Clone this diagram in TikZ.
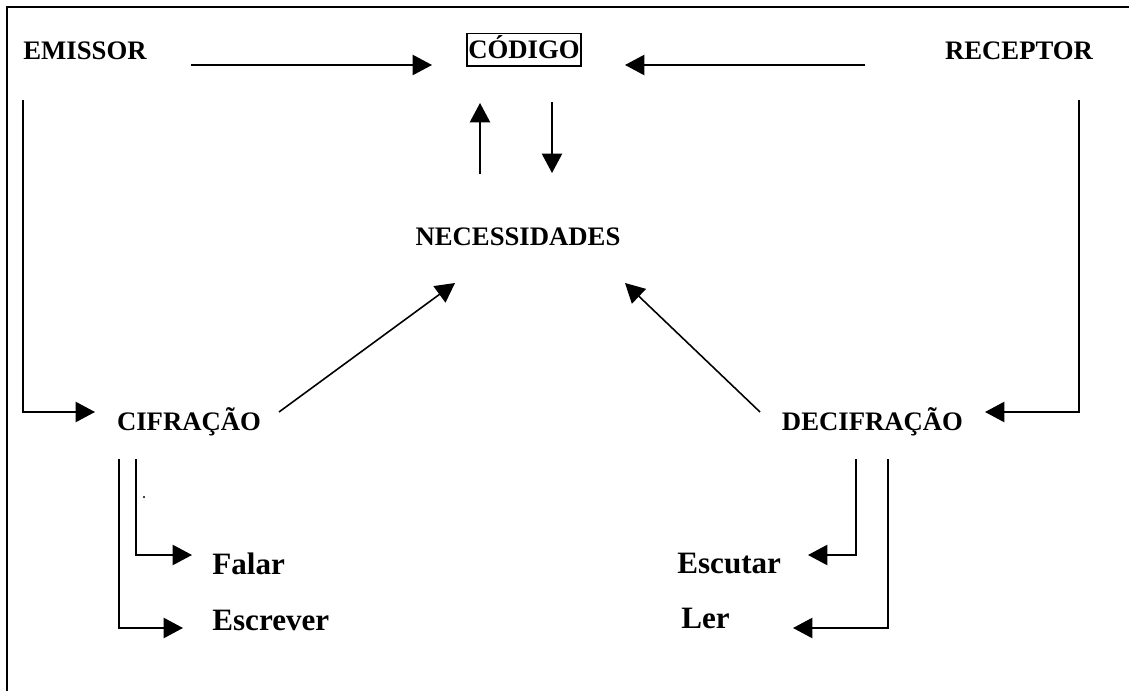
\documentclass[tikz,border=0pt]{standalone}
\usepackage{fontspec}
\setmainfont{Liberation Serif}
\usetikzlibrary{arrows.meta,positioning}

\begin{document}
\begin{tikzpicture}[
  concept/.style={inner sep=0pt, anchor=base, font=\fontsize{15.2}{18}\selectfont\bfseries},
  action/.style={inner sep=0pt, anchor=base west, font=\fontsize{17.7}{21}\selectfont\bfseries},
  arrow/.style={-{Triangle[length=11pt,width=11.5pt]}, line width=0.9pt},
  frame/.style={line width=1.1pt}
]
  \useasboundingbox (0,0) rectangle (22.58,13.82);
  % Frame (only top and left edges show)
  \draw[frame] (0.14,0) -- (0.14,13.68) -- (22.58,13.68);

  % Concepts
  \node[concept] (emissor) at (1.70,12.62) {EMISSOR};
  \node[concept, draw, line width=0.9pt, inner xsep=0.8pt, text height=14.5pt, text depth=4pt] (codigo) at (10.48,12.64) {CÓDIGO};
  \node[concept] (receptor) at (20.38,12.62) {RECEPTOR};
  \node[concept] (necessidades) at (10.36,8.92) {NECESSIDADES};
  \node[concept] (cifracao) at (3.78,5.22) {CIFRAÇÃO};
  \node[concept] (decifracao) at (17.45,5.22) {DECIFRAÇÃO};

  % Actions
  \node[action] (falar) at (4.24,2.34) {Falar};
  \node[action] (escrever) at (4.24,1.22) {Escrever};
  \node[action] (escutar) at (13.54,2.36) {Escutar};
  \node[action] (ler) at (13.62,1.26) {Ler};
  \node[circle, fill, inner sep=0pt, minimum size=1.3pt] (ponto) at (2.88,3.88) {};

  % Connector ends
  \coordinate (emissor-out) at (3.82,12.52);
  \coordinate (codigo-l) at (8.64,12.52);
  \coordinate (receptor-out) at (17.30,12.52);
  \coordinate (codigo-r) at (12.50,12.52);
  \coordinate (nec-up) at (9.60,10.34);
  \coordinate (codigo-bl) at (9.60,11.76);
  \coordinate (codigo-br) at (11.04,11.78);
  \coordinate (nec-down) at (11.04,10.36);
  \coordinate (cif-out) at (5.58,5.58);
  \coordinate (nec-l) at (9.10,8.16);
  \coordinate (dec-out) at (15.20,5.58);
  \coordinate (nec-r) at (12.50,8.16);
  \coordinate (emissor-down) at (0.46,11.82);
  \coordinate (cif-in) at (1.90,5.58);
  \coordinate (receptor-down) at (21.58,11.82);
  \coordinate (dec-in) at (19.70,5.58);
  \coordinate (cif-a) at (2.72,4.64);
  \coordinate (cif-b) at (2.38,4.64);
  \coordinate (falar-in) at (3.84,2.72);
  \coordinate (escrever-in) at (3.66,1.26);
  \coordinate (dec-a) at (17.12,4.64);
  \coordinate (dec-b) at (17.76,4.64);
  \coordinate (escutar-in) at (16.16,2.72);
  \coordinate (ler-in) at (15.86,1.26);

  % Top arrows
  \draw[arrow] (emissor-out) -- (codigo-l);
  \draw[arrow] (receptor-out) -- (codigo-r);
  \draw[arrow] (nec-up) -- (codigo-bl);
  \draw[arrow] (codigo-br) -- (nec-down);

  % Into NECESSIDADES
  \draw[arrow] (cif-out) -- (nec-l);
  \draw[arrow] (dec-out) -- (nec-r);

  % Side paths
  \draw[arrow] (emissor-down) |- (cif-in);
  \draw[arrow] (receptor-down) |- (dec-in);

  % Actions
  \draw[arrow] (cif-a) |- (falar-in);
  \draw[arrow] (cif-b) |- (escrever-in);
  \draw[arrow] (dec-a) |- (escutar-in);
  \draw[arrow] (dec-b) |- (ler-in);
\end{tikzpicture}
\end{document}
